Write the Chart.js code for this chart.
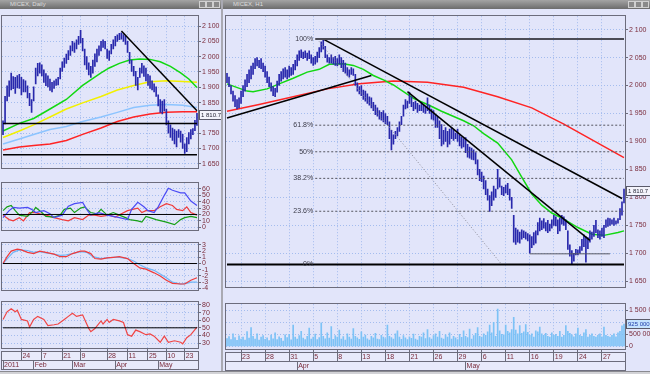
<!DOCTYPE html>
<html>
<head>
<meta charset="utf-8">
<title>MICEX</title>
<script src="https://cdn.jsdelivr.net/npm/chart.js@4.4.1/dist/chart.umd.min.js"></script>
<style>
  html, body { margin: 0; padding: 0; }
  body { width: 650px; height: 374px; position: relative; overflow: hidden; background: #a9a9b2; font-family: 'Liberation Sans', Arial, sans-serif; }
  .win { position: absolute; top: 0; height: 371px; background: #e2e5fa; }
  .cap { position: absolute; left: 0; right: 0; top: 0; height: 9px; background: linear-gradient(#a4a4a4, #6c6c6c); color: #dcdcdc; font-size: 6px; line-height: 9px; padding-left: 10px; white-space: nowrap; }
  .ctl { position: absolute; top: 1px; width: 5px; height: 5px; border: 1px solid #d0d0d0; background: #8a8a8a; }
  .scroll { position: absolute; left: 0; top: 371px; width: 650px; height: 3px; background: #d2d2d6; border-top: 1px solid #8a8a90; }
  canvas { position: absolute; }
</style>
</head>
<body>
<div class="win" style="left:0;width:221px">
  <div class="cap">MICEX, Daily
    <span class="ctl" style="right:15px"></span><span class="ctl" style="right:8px"></span><span class="ctl" style="right:1px"></span>
  </div>
</div>
<div class="win" style="left:223px;width:427px">
  <div class="cap">MICEX, H1
    <span class="ctl" style="right:15px"></span><span class="ctl" style="right:8px"></span><span class="ctl" style="right:1px"></span>
  </div>
</div>
<div class="scroll"></div>

<canvas id="leftMain" width="220" height="162" style="left:1px;top:11px"></canvas>
<canvas id="leftAdx" width="220" height="57" style="left:1px;top:178px"></canvas>
<canvas id="leftMacd" width="220" height="57" style="left:1px;top:238px"></canvas>
<canvas id="leftRsi" width="220" height="73" style="left:1px;top:297px"></canvas>
<canvas id="rightMain" width="426" height="281" style="left:224px;top:11px"></canvas>
<canvas id="rightVol" width="426" height="72" style="left:224px;top:299px"></canvas>

<script>
// ---------- daily chart (left) ----------
const leftDays = [
  '01-11','01-12','01-13','01-14','01-17','01-18','01-19','01-20','01-21','01-24','01-25','01-26','01-27','01-28','01-31',
  '02-01','02-02','02-03','02-04','02-07','02-08','02-09','02-10','02-11','02-14','02-15','02-16','02-17','02-18','02-21','02-22','02-24','02-25','02-28',
  '03-01','03-02','03-03','03-04','03-09','03-10','03-11','03-14','03-15','03-16','03-17','03-18','03-21','03-22','03-23','03-24','03-25','03-28','03-29','03-30','03-31',
  '04-01','04-04','04-05','04-06','04-07','04-08','04-11','04-12','04-13','04-14','04-15','04-18','04-19','04-20','04-21','04-22','04-25','04-26','04-27','04-28','04-29',
  '05-03','05-04','05-05','05-06','05-10','05-11','05-12','05-13','05-16','05-17','05-18','05-19','05-20','05-23','05-24','05-25','05-26','05-27','05-30','05-31'
];
const leftHigh = [
  1790,1870,1905,1921,1946,1935,1932,1938,1942,1932,
  1925,1921,1905,1880,1860,1901,1963,1978,1980,1973,
  1957,1945,1937,1927,1916,1921,1927,1932,1963,1983,
  1995,2008,2020,2035,2050,2045,2055,2066,2086,2060,
  2025,2000,1980,1968,1989,2009,2025,2035,2050,2055,
  2050,2025,2019,2040,2055,2066,2071,2076,2078,2072,
  2066,2050,2014,1989,1968,1952,1932,1963,1978,1970,
  1963,1942,1937,1921,1911,1901,1875,1860,1855,1860,
  1829,1790,1777,1767,1762,1757,1762,1757,1746,1715,
  1736,1752,1762,1765,1792,1815
];
const leftLow = [
  1745,1780,1855,1870,1891,1895,1880,1898,1896,1875,
  1885,1885,1865,1840,1818,1855,1911,1937,1946,1937,
  1916,1905,1901,1890,1885,1896,1906,1908,1927,1952,
  1965,1978,1990,2004,2019,2014,2025,2040,2045,2019,
  1973,1958,1940,1932,1946,1968,1983,2004,2019,2030,
  2025,1994,1988,2009,2025,2035,2050,2055,2057,2050,
  2040,2014,1978,1952,1937,1906,1891,1932,1946,1935,
  1921,1906,1896,1891,1885,1870,1839,1818,1813,1823,
  1777,1750,1736,1726,1715,1705,1736,1721,1700,1684,
  1690,1715,1731,1745,1758,1775
];
const leftTickDays = ['01-24','02-07','02-21','03-09','03-28','04-11','04-25','05-10','05-23'];
const leftMonthDays = ['01-11','02-01','03-01','04-01','05-03'];
const leftMonthNames = ['2011','Feb','Mar','Apr','May'];
const priceTicks = [1650,1700,1750,1800,1850,1900,1950,2000,2050,2100];
const lastPrice = 1810.7;

// moving averages read at sample bars
const maIdx = [0,8,15,23,31,39,48,56,64,72,80,88,95];
const maYellow = [1736,1757,1777,1803,1829,1849,1870,1891,1906,1918,1921,1919,1916];
const maBlue = [1715,1731,1746,1762,1772,1788,1803,1818,1834,1841,1844,1841,1834];
const maRed = [1695,1705,1710,1715,1726,1746,1767,1788,1803,1813,1818,1820,1820];
const greenIdx = [0,8,15,23,31,39,48,52,57,62,67,72,77,82,87,91,95];
const maGreen = [1757,1782,1798,1829,1860,1906,1947,1963,1978,1989,1992,1991,1983,1968,1947,1927,1899];
const leftLevels = [1782, 1680];
const leftTrendIdx = [58, 95];
const leftTrendVal = [2084, 1823];

// indicators (ADX / MACD / RSI)
const adxIdx = [0,3,5,8,12,14,16,20,23,25,29,32,35,39,41,43,47,51,54,57,61,63,66,69,71,74,76,79,81,83,87,89,92,95];
const adxVal = [15,26,31,30,31,28,23,26,21,15,19,33,37,39,28,19,23,19,17,15,12,28,39,32,26,23,32,50,61,58,54,54,41,34];
const pdiIdx = [0,2,4,6,8,12,15,16,19,21,25,28,30,33,35,38,40,43,46,48,51,54,57,60,62,66,68,70,72,75,80,84,87,89,92,95];
const pdiVal = [26,32,34,26,19,17,26,31,23,17,16,19,28,30,23,30,32,23,21,28,19,23,19,15,12,10,8,17,15,12,8,4,12,15,17,15];
const mdiIdx = [0,3,5,8,10,13,16,18,21,25,29,32,35,39,42,45,48,52,55,58,61,66,68,70,74,77,80,83,85,88,90,92,95];
const mdiVal = [19,12,10,15,10,23,23,21,19,15,12,10,15,12,19,19,17,19,16,21,26,30,23,26,26,32,37,34,28,26,32,23,19];
const macdIdx = [0,2,4,7,9,12,15,18,21,25,28,31,34,38,40,43,45,48,51,54,57,61,64,67,70,74,77,80,83,87,89,92,95];
const macdVal = [0,1.1,2.0,2.3,2.2,1.8,1.6,2.0,1.8,1.5,1.1,1.1,1.6,2.0,2.0,1.6,0.8,0.7,0.9,1.0,1.1,0.8,0,-0.7,-0.9,-1.5,-2.0,-2.7,-3.2,-3.3,-3.3,-2.7,-2.3];
const sigIdx = [0,3,5,8,12,15,18,21,25,28,31,34,38,41,44,48,51,54,57,61,64,67,70,74,77,80,83,87,90,92,95];
const sigVal = [0,1.1,1.8,2.2,2.1,1.8,1.9,1.7,1.5,1.3,1.4,1.6,1.9,1.8,1.1,0.8,0.9,1.0,1.0,0.8,0.4,-0.2,-0.7,-1.1,-1.7,-2.3,-3.0,-3.3,-3.2,-3.0,-3.0];
const rsiIdx = [0,2,4,6,7,9,12,13,15,17,20,22,25,27,30,32,34,36,39,40,42,43,45,48,49,51,52,54,57,59,61,63,65,67,70,72,74,77,79,81,84,87,88,90,92,95];
const rsiVal = [61,71,75,71,73,61,59,51,61,65,61,53,54,55,61,65,69,65,67,61,49,45,49,59,55,61,57,61,59,57,41,39,47,45,41,42,39,31,39,31,33,31,29,37,41,51];

// ---------- hourly chart (right) ----------
const rightDays = [
  '03-21','03-22','03-23','03-24','03-25','03-28','03-29','03-30','03-31',
  '04-01','04-04','04-05','04-06','04-07','04-08','04-11','04-12','04-13','04-14','04-15','04-18','04-19','04-20','04-21','04-22','04-25','04-26','04-27','04-28','04-29',
  '05-04','05-05','05-06','05-07','05-10','05-11','05-12','05-13','05-16','05-17','05-18','05-19','05-20','05-23','05-24','05-25','05-26','05-27','05-30','05-31'
];
const rightHigh = [
  2022,2015,2000,1990,1982,1975,1978,1990,2000,2010,
  2020,2028,2035,2040,2048,2050,2045,2048,2040,2035,
  2025,2015,2005,1998,1995,2008,2020,2025,2030,2032,
  2028,2035,2032,2038,2045,2055,2062,2064,2060,2062,
  2058,2062,2055,2050,2052,2060,2068,2078,2083,2070,
  2055,2050,2055,2050,2052,2048,2055,2050,2045,2040,
  2032,2028,2032,2030,2020,2005,1998,2000,1992,1990,
  1985,1980,1978,1970,1965,1960,1955,1952,1955,1950,
  1945,1935,1920,1912,1918,1925,1935,1945,1965,1975,
  1972,1988,1980,1970,1972,1968,1965,1970,1966,1962,
  1978,1965,1958,1955,1948,1945,1937,1930,1920,1925,
  1918,1922,1925,1920,1915,1922,1911,1908,1905,1907,
  1895,1890,1888,1885,1880,1867,1850,1845,1838,1830,
  1815,1803,1810,1820,1815,1850,1835,1820,1818,1822,
  1825,1815,1800,1768,1745,1742,1738,1742,1740,1738,
  1735,1733,1730,1737,1740,1755,1763,1758,1762,1755,
  1759,1752,1760,1768,1765,1760,1763,1768,1765,1760,
  1740,1715,1705,1700,1707,1706,1712,1725,1733,1730,
  1728,1740,1738,1750,1759,1742,1740,1745,1750,1760,
  1763,1762,1760,1763,1758,1762,1780,1792,1815
];
const rightLow = [
  2005,1998,1985,1972,1962,1958,1960,1968,1980,1990,
  1998,2005,2012,2020,2030,2035,2032,2030,2025,2015,
  2005,1998,1990,1982,1980,1988,2000,2008,2012,2015,
  2012,2015,2018,2020,2028,2035,2045,2050,2048,2050,
  2045,2048,2040,2036,2038,2042,2050,2060,2065,2050,
  2042,2040,2040,2038,2036,2035,2038,2032,2025,2022,
  2018,2015,2020,2018,2000,1990,1985,1982,1975,1972,
  1968,1965,1960,1955,1948,1945,1940,1938,1935,1932,
  1930,1905,1885,1895,1905,1910,1918,1930,1945,1958,
  1960,1968,1962,1955,1958,1952,1955,1955,1952,1950,
  1955,1950,1940,1938,1925,1925,1905,1892,1895,1900,
  1890,1895,1905,1902,1905,1900,1892,1888,1890,1880,
  1872,1870,1868,1867,1860,1840,1830,1828,1815,1805,
  1795,1775,1785,1795,1800,1815,1818,1805,1803,1808,
  1805,1795,1780,1720,1716,1720,1718,1725,1728,1725,
  1722,1700,1710,1715,1718,1733,1740,1742,1745,1740,
  1737,1740,1745,1750,1749,1735,1740,1752,1750,1742,
  1707,1695,1681,1686,1697,1697,1700,1705,1712,1684,
  1708,1720,1725,1730,1737,1728,1725,1730,1728,1746,
  1748,1750,1752,1750,1752,1754,1760,1768,1790
];
// volume, thousands
const rightVol = [
  320,410,280,520,360,250,440,300,380,260,
  610,340,780,420,300,520,260,380,450,290,
  350,240,470,310,560,280,400,330,220,480,
  360,500,270,880,380,300,450,620,340,280,
  420,760,300,390,510,280,360,980,420,310,
  560,340,820,290,450,380,680,300,410,260,
  520,380,300,740,420,350,290,600,380,470,
  310,260,420,350,540,300,280,460,390,320,
  880,420,360,300,520,640,380,290,450,350,
  280,400,330,510,300,260,420,380,560,320,
  700,360,300,450,520,390,620,340,300,480,
  380,560,300,420,350,280,500,370,640,420,
  360,720,300,450,540,780,420,380,520,460,
  600,880,560,1000,420,1550,640,500,480,880,
  620,560,700,1200,680,520,860,540,600,900,
  580,460,520,380,640,600,800,520,460,540,
  420,380,560,460,500,420,620,380,460,860,
  620,540,480,400,520,760,460,420,560,700,
  380,460,520,420,380,460,520,400,800,460,
  420,380,460,520,400,560,620,850,925
];
const rightTickDays = ['03-23','03-28','03-31','04-05','04-08','04-13','04-18','04-21','04-26','04-29','05-06','05-11','05-16','05-19','05-24','05-27'];
const rightMonthDays = ['04-01','05-04'];
const rightMonthNames = ['Apr','May'];
const volTicks = [0, 500, 1000, 1500];

const rightGreenIdx = [0,10,13,20,26,33,40,46,51,58,63,68,73,78,83,88,93,100,107,118,123,128,135,142,147,152,157,162,168,175,182,188,195,198];
const rightGreen = [2003,1990,1989,1994,2003,2013,2024,2029,2038,2039,2036,2029,2018,2010,2001,1989,1977,1966,1954,1937,1928,1914,1897,1867,1836,1806,1786,1772,1761,1746,1734,1732,1737,1740];
const rightRedIdx = [0,16,33,50,66,83,100,118,135,152,168,185,198];
const rightRed = [1954,1966,1980,1994,2003,2008,2006,1997,1980,1960,1931,1897,1871];
const riseIdx = [0, 72], riseVal = [1942, 2018];
const lineAIdx = [48, 197], lineAVal = [2083, 1798];
const lineBIdx = [90, 181], lineBVal = [1989, 1723];
const floorIdx = [151, 191], floorVal = [1699, 1699];
const fibHigh = 2083, fibLow = 1680, fibStart = 44, fibEnd = 137;
const fibRatios = [1, 0.618, 0.5, 0.382, 0.236, 0];
const fibNames = ['100%', '61.8%', '50%', '38.2%', '23.6%', '0%'];

// ---------- helpers ----------
const GRID = '#a4bcee';
const LABEL = '#7a2b3b';
const FRAME = '#6c6c7c';
const BARC = '#2828ac';
Chart.defaults.font.family = "'Liberation Sans', Arial, sans-serif";
Chart.defaults.font.size = 7;

const fmt = v => String(v).replace(/\B(?=(\d{3})+(?!\d))/g, ' ');
const sparse = (n, idx, vals) => { const a = new Array(n).fill(null); idx.forEach((i, k) => { a[i] = vals[k]; }); return a; };
const pair = (lo, hi) => lo.map((l, i) => [l, hi[i]]);
const dayName = d => String(+d.slice(3));

function line(data, color, width, dash) {
  return { type: 'line', data, borderColor: color, borderWidth: width, borderDash: dash || [], pointRadius: 0, spanGaps: true, fill: false, tension: 0 };
}

function dayAxis(tickIdx, names, rowHeight, onArea, weight) {
  return {
    type: 'category', offset: true, weight: weight || 0,
    grid: { offset: false, drawOnChartArea: onArea, color: GRID, drawTicks: rowHeight > 0, tickLength: rowHeight, tickColor: FRAME },
    border: { display: false, dash: [1, 2] },
    ticks: {
      display: rowHeight > 0, autoSkip: false, maxRotation: 0, minRotation: 0, align: 'start',
      padding: -8, labelOffset: 1, color: LABEL,
      callback: v => names ? names[tickIdx.indexOf(v)] : ''
    },
    afterBuildTicks: s => { s.ticks = tickIdx.map(v => ({ value: v })); },
    afterFit: s => { s.height = rowHeight; }
  };
}

function valueAxis(min, max, ticks, width, label) {
  return {
    position: 'right', min, max,
    afterBuildTicks: s => { s.ticks = ticks.map(v => ({ value: v })); },
    afterFit: s => { s.width = width; },
    grid: { color: GRID, tickColor: FRAME, tickLength: 3 },
    border: { display: false, dash: [1, 2] },
    ticks: { color: LABEL, padding: 1, autoSkip: false, callback: label || (v => fmt(v)) }
  };
}

function opts(pad, scales, notes) {
  return {
    responsive: false, animation: false, devicePixelRatio: 1, events: [],
    layout: { autoPadding: false, padding: pad },
    plugins: { legend: { display: false }, tooltip: { enabled: false }, notes: notes || {} },
    scales
  };
}

// panel frame and the boxes under the date rows
const frame = {
  id: 'frame',
  beforeDraw(chart) {
    const { ctx } = chart;
    ctx.save();
    ['x', 'xm'].forEach(id => {
      const s = chart.scales[id];
      if (!s || s.height < 5) return;
      const top = s.bottom - 9;
      ctx.fillStyle = '#e8eafb';
      ctx.fillRect(s.left, top, s.right - s.left, 9);
      ctx.strokeStyle = FRAME;
      ctx.strokeRect(Math.round(s.left) - 0.5, top + 0.5, Math.round(s.right - s.left) + 1, 9);
    });
    ctx.restore();
  },
  afterDraw(chart) {
    const { ctx, chartArea: a } = chart;
    ctx.save();
    ctx.strokeStyle = FRAME;
    ctx.lineWidth = 1;
    ctx.strokeRect(Math.round(a.left) - 0.5, Math.round(a.top) - 0.5, Math.round(a.right - a.left) + 1, Math.round(a.bottom - a.top) + 1);
    ctx.restore();
  }
};

// level captions and price / volume boxes on the axis
const notes = {
  id: 'notes',
  afterDraw(chart, args, o) {
    const { ctx, chartArea: a } = chart;
    const xs = chart.scales.x, ys = chart.scales.y;
    ctx.save();
    ctx.textBaseline = 'middle';
    ctx.font = "7px 'Liberation Sans', Arial, sans-serif";
    (o.texts || []).forEach(t => {
      ctx.fillStyle = '#3a3a48';
      ctx.textAlign = 'right';
      ctx.fillText(t.text, xs.getPixelForValue(t.i), ys.getPixelForValue(t.value));
    });
    ctx.font = "6px 'Liberation Sans', Arial, sans-serif";
    (o.boxes || []).forEach(b => {
      const y = Math.round(ys.getPixelForValue(b.value));
      const w = Math.ceil(ctx.measureText(b.text).width) + 4;
      ctx.fillStyle = b.bg;
      ctx.fillRect(a.right + 1, y - 5, w, 10);
      ctx.strokeStyle = '#5a5a6a';
      ctx.strokeRect(a.right + 1.5, y - 4.5, w - 1, 9);
      ctx.fillStyle = b.color;
      ctx.textAlign = 'left';
      ctx.fillText(b.text, a.right + 3, y);
    });
    ctx.restore();
  }
};

const el = id => document.getElementById(id);
const leftN = leftDays.length;
const leftTickIdx = leftTickDays.map(d => leftDays.indexOf(d));
const leftMonthIdx = leftMonthDays.map(d => leftDays.indexOf(d));
const leftPad = { left: 1, right: 0, top: 1, bottom: 1 };
const flat = (n, v) => sparse(n, [0, n - 1], [v, v]);

// ---------- left: price ----------
new Chart(el('leftMain'), {
  type: 'bar',
  data: {
    labels: leftDays,
    datasets: [
      line(sparse(leftN, leftTrendIdx, leftTrendVal), '#000', 1.5),
      line(flat(leftN, leftLevels[0]), '#000', 1.5),
      line(flat(leftN, leftLevels[1]), '#000', 1.5),
      { data: pair(leftLow, leftHigh), backgroundColor: BARC, barThickness: 1 },
      line(sparse(leftN, greenIdx, maGreen), '#12d812', 1.5),
      line(sparse(leftN, maIdx, maYellow), '#f2f000', 1.5),
      line(sparse(leftN, maIdx, maBlue), '#8cc4ff', 1.5),
      line(sparse(leftN, maIdx, maRed), '#ff2424', 1.5)
    ]
  },
  options: opts(leftPad, {
    x: dayAxis(leftTickIdx, null, 0, true),
    y: valueAxis(1637, 2132, priceTicks, 23)
  }, { boxes: [{ value: lastPrice, text: fmt(lastPrice), bg: '#f4f4fc', color: '#2a2a3a' }] }),
  plugins: [frame, notes]
});

// ---------- left: ADX ----------
new Chart(el('leftAdx'), {
  type: 'line',
  data: {
    labels: leftDays,
    datasets: [
      line(flat(leftN, 20), '#000', 1),
      line(sparse(leftN, adxIdx, adxVal), '#4b4bf5', 1.2),
      line(sparse(leftN, pdiIdx, pdiVal), '#17a017', 1.2),
      line(sparse(leftN, mdiIdx, mdiVal), '#f03c3c', 1.2)
    ]
  },
  options: opts(leftPad, {
    x: dayAxis(leftTickIdx, null, 0, true),
    y: valueAxis(-4, 69, [0, 10, 20, 30, 40, 50, 60], 23)
  }),
  plugins: [frame]
});

// ---------- left: MACD ----------
new Chart(el('leftMacd'), {
  type: 'line',
  data: {
    labels: leftDays,
    datasets: [
      line(flat(leftN, 0), '#000', 1),
      line(sparse(leftN, macdIdx, macdVal), '#f03c3c', 1.2),
      line(sparse(leftN, sigIdx, sigVal), '#72b6f6', 1.2)
    ]
  },
  options: opts(leftPad, {
    x: dayAxis(leftTickIdx, null, 0, true),
    y: valueAxis(-4.23, 3.27, [-4, -3, -2, -1, 0, 1, 2, 3], 23)
  }),
  plugins: [frame]
});

// ---------- left: RSI + dates ----------
new Chart(el('leftRsi'), {
  type: 'line',
  data: {
    labels: leftDays,
    datasets: [
      line(flat(leftN, 50), '#000', 1),
      line(sparse(leftN, rsiIdx, rsiVal), '#f04545', 1.2)
    ]
  },
  options: opts(leftPad, {
    x: dayAxis(leftTickIdx, leftTickDays.map(dayName), 12, true, 1),
    xm: dayAxis(leftMonthIdx, leftMonthNames, 9, false, 2),
    y: valueAxis(23.5, 83.6, [30, 40, 50, 60, 70, 80], 23)
  }),
  plugins: [frame]
});

// ---------- right: hourly price ----------
const rightLabels = [];
rightDays.forEach((d, k) => {
  const n = k === 0 ? 3 : 4;
  for (let j = 0; j < n; j++) rightLabels.push(d + ' ' + j);
});
const rightN = rightLabels.length;
const rightTickIdx = rightTickDays.map(d => rightLabels.indexOf(d + ' 0'));
const rightMonthIdx = rightMonthDays.map(d => rightLabels.indexOf(d + ' 0'));
const rightPad = { left: 2, right: 0, top: 1, bottom: 1 };
const fibLevel = r => fibLow + r * (fibHigh - fibLow);

const fibSets = fibRatios.slice(1, 5).map(r =>
  line(sparse(rightN, [fibStart, rightN - 1], [fibLevel(r), fibLevel(r)]), '#55555f', 1, [2, 2]));

new Chart(el('rightMain'), {
  type: 'bar',
  data: {
    labels: rightLabels,
    datasets: [
      line(flat(rightN, fibLow), '#000', 2),
      line(sparse(rightN, [fibStart, rightN - 1], [fibHigh, fibHigh]), '#4c4c56', 2),
      line(sparse(rightN, lineAIdx, lineAVal), '#000', 1.5),
      line(sparse(rightN, lineBIdx, lineBVal), '#000', 1.5),
      line(sparse(rightN, riseIdx, riseVal), '#000', 1.5),
      line(sparse(rightN, floorIdx, floorVal), '#5a5a64', 1),
      ...fibSets,
      line(sparse(rightN, [fibStart + 1, fibEnd], [fibHigh, fibLow]), '#8a8a96', 1, [1, 2]),
      { data: pair(rightLow, rightHigh), backgroundColor: BARC, barThickness: 1 },
      line(sparse(rightN, rightGreenIdx, rightGreen), '#12d812', 1.5),
      line(sparse(rightN, rightRedIdx, rightRed), '#ff2424', 1.5)
    ]
  },
  options: opts(rightPad, {
    x: dayAxis(rightTickIdx, null, 0, true),
    y: valueAxis(1640, 2124, priceTicks, 25)
  }, {
    texts: fibRatios.map((r, k) => ({ i: fibStart - 1, value: fibLevel(r), text: fibNames[k] })),
    boxes: [{ value: lastPrice, text: fmt(lastPrice), bg: '#f4f4fc', color: '#2a2a3a' }]
  }),
  plugins: [frame, notes]
});

// ---------- right: volume + dates ----------
new Chart(el('rightVol'), {
  type: 'bar',
  data: {
    labels: rightLabels,
    datasets: [{ data: rightVol, backgroundColor: '#7cc2f6', barThickness: 1 }]
  },
  options: opts(rightPad, {
    x: dayAxis(rightTickIdx, rightTickDays.map(dayName), 12, true, 1),
    xm: dayAxis(rightMonthIdx, rightMonthNames, 9, false, 2),
    y: valueAxis(-110, 1750, volTicks, 25, v => fmt(v * 1000))
  }, {
    boxes: [{ value: rightVol[rightN - 1], text: fmt(rightVol[rightN - 1] * 1000), bg: '#c4e2ff', color: '#1e3ca8' }]
  }),
  plugins: [frame, notes]
});
</script>
</body>
</html>
